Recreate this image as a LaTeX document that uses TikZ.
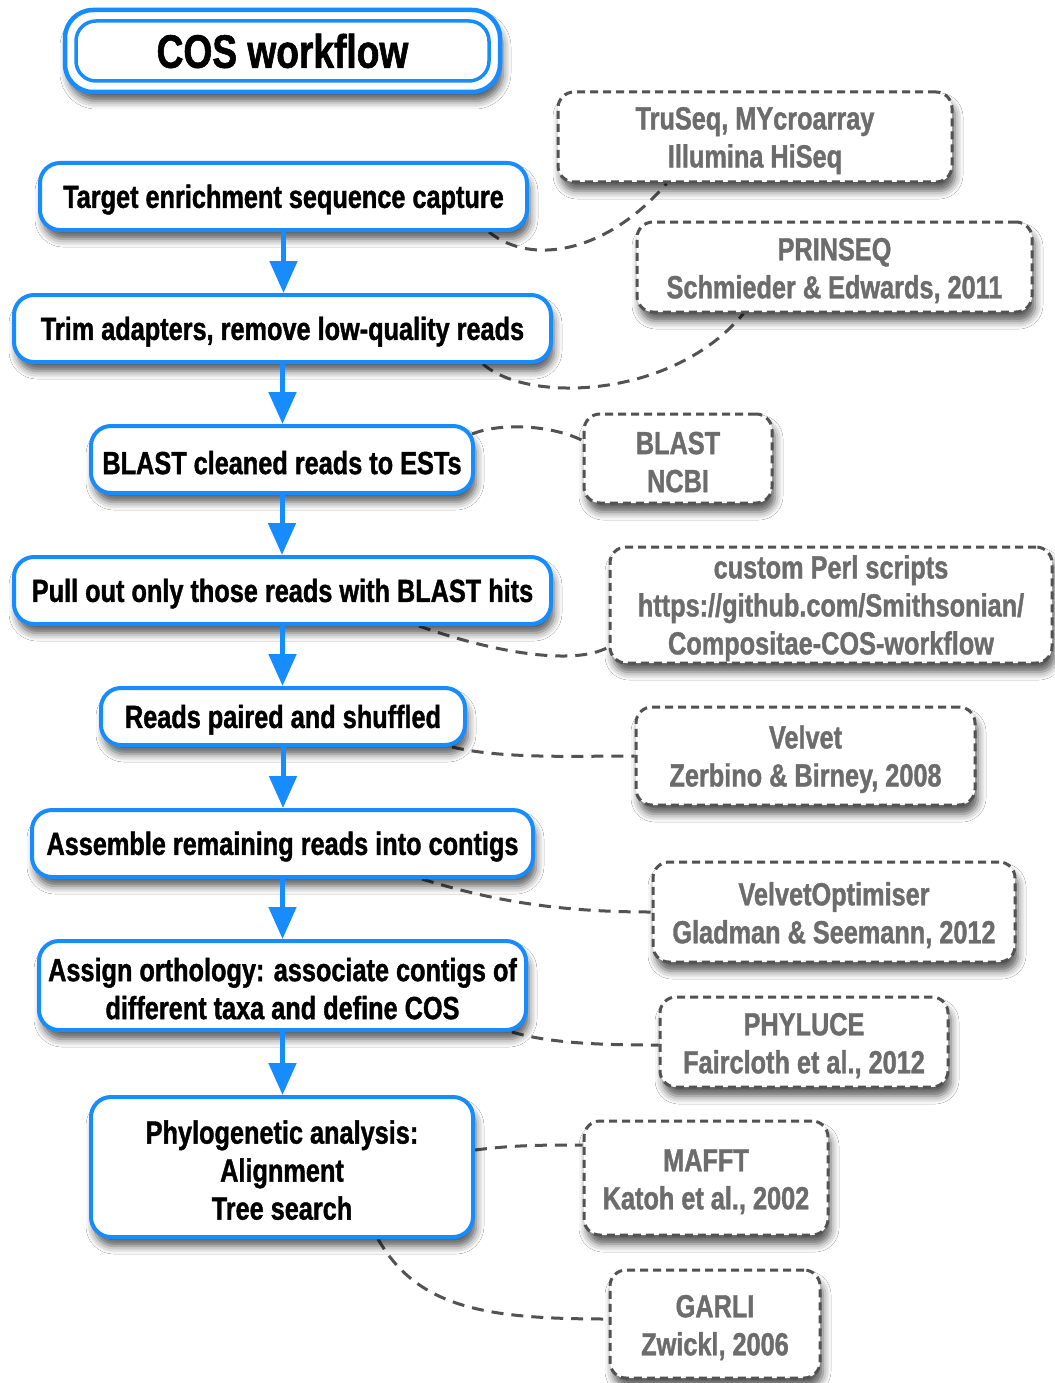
\documentclass[tikz,border=0pt]{standalone}
\usepackage{fontspec}
\setmainfont{Liberation Sans}[FakeStretch=0.79, BoldFeatures={FakeBold=1.2}]
\usetikzlibrary{arrows.meta,shadows.blur,calc}
\pgfdeclarelayer{bg}
\pgfsetlayers{bg,main}
\definecolor{cosblue}{RGB}{22,140,255}
\definecolor{dashgray}{RGB}{82,82,82}
\definecolor{txtgray}{RGB}{108,108,108}
\newcommand{\lowr}{\rule{0pt}{29.5pt}}
\begin{document}
\begin{tikzpicture}[x=1pt,y=-1pt,
  boxshadow/.style={blur shadow={shadow xshift=3pt, shadow yshift=-9pt, shadow blur radius=8pt, shadow opacity=65}},
  mainbox/.style={draw=cosblue, line width=4pt, fill=white, rounded corners=20pt, align=center, inner sep=0pt,
    font=\fontsize{32}{38}\selectfont\bfseries, boxshadow},
  toolbox/.style={draw=dashgray, line width=3pt, dash pattern=on 8pt off 5pt, fill=white, rounded corners=16pt,
    align=center, inner sep=0pt, text=txtgray, font=\fontsize{32}{38}\selectfont\bfseries, boxshadow},
  flow/.style={draw=cosblue, line width=5pt, -{Triangle[width=27pt,length=32pt]}},
  link/.style={draw=dashgray, line width=3pt, dash pattern=on 12pt off 8pt}]
\useasboundingbox (0,0) rectangle (1054,1383);

% title
\node[mainbox, line width=4.5pt, rounded corners=28pt, minimum width=435pt, minimum height=82pt] (title) at (282.5,51) {};
\node[draw=cosblue, line width=3.5pt, rounded corners=20pt, inner sep=0pt, minimum width=413pt, minimum height=60pt,
  font=\fontsize{47}{50}\selectfont\bfseries] (titlein) at (title.center) {COS workflow};

% workflow steps
\node[mainbox, minimum width=487pt, minimum height=67pt] (b1) at (283.5,196.5) {\lowr Target enrichment sequence capture};
\node[mainbox, minimum width=537pt, minimum height=67pt] (b2) at (282.5,328.5) {\lowr Trim adapters, remove low-quality reads};
\node[mainbox, minimum width=382pt, minimum height=67pt] (b3) at (282,459.5) {\lowr BLAST cleaned reads to ESTs};
\node[mainbox, minimum width=537pt, minimum height=67pt] (b4) at (282.5,590.5) {\lowr Pull out only those reads with BLAST hits};
\node[mainbox, minimum width=364pt, minimum height=57pt] (b5) at (283,716.5) {\lowr Reads paired and shuffled};
\node[mainbox, minimum width=501pt, minimum height=67pt] (b6) at (282.5,843.5) {\lowr Assemble remaining reads into contigs};
\node[mainbox, minimum width=487pt, minimum height=89pt] (b7) at (282.5,985.5) {\lowr Assign orthology: associate contigs of\\different taxa and define COS};
\node[mainbox, minimum width=382pt, minimum height=140pt] (b8) at (282,1167) {\lowr Phylogenetic analysis:\\Alignment\\Tree search};

% tools
\node[toolbox, minimum width=394pt, minimum height=90pt] (ta) at (755,137) {\lowr TruSeq, MYcroarray\\Illumina HiSeq};
\node[toolbox, minimum width=395pt, minimum height=90pt] (tb) at (834.5,267) {\lowr PRINSEQ\\Schmieder \& Edwards, 2011};
\node[toolbox, minimum width=188pt, minimum height=89pt] (tc) at (678,458.5) {\lowr BLAST\\NCBI};
\node[toolbox, minimum width=442pt, minimum height=116pt] (td) at (831,605) {\lowr custom Perl scripts\\https://github.com/Smithsonian/\\Compositae-COS-workflow};
\node[toolbox, minimum width=339pt, minimum height=98pt] (te) at (805.5,756) {\lowr Velvet\\Zerbino \& Birney, 2008};
\node[toolbox, minimum width=362pt, minimum height=100pt] (tf) at (834,912) {\lowr VelvetOptimiser\\Gladman \& Seemann, 2012};
\node[toolbox, minimum width=288pt, minimum height=90pt] (tg) at (804,1042) {\lowr PHYLUCE\\Faircloth et al., 2012};
\node[toolbox, minimum width=244pt, minimum height=114pt] (th) at (706,1178) {\lowr MAFFT\\Katoh et al., 2002};
\node[toolbox, minimum width=210pt, minimum height=108pt] (ti) at (715,1324) {\lowr GARLI\\Zwickl, 2006};

% flow arrows
\draw[flow] (b1.south) -- (b1.south |- b2.north);
\draw[flow] (b2.south) -- (b2.south |- b3.north);
\draw[flow] (b3.south) -- (b3.south |- b4.north);
\draw[flow] (b4.south) -- (b4.south |- b5.north);
\draw[flow] (b5.south) -- (b5.south |- b6.north);
\draw[flow] (b6.south) -- (b6.south |- b7.north);
\draw[flow] (b7.south) -- (b7.south |- b8.north);

% background and dashed links
\begin{pgfonlayer}{bg}
\fill[white] (0,0) rectangle (1054,1383);
\draw[link] ([xshift=-40pt]b1.south east) .. controls +(43,35) and +(-58,68) .. ([xshift=110pt]ta.south west);
\draw[link] ([xshift=-70pt]b2.south east) .. controls +(45,40) and +(-70,85) .. ([xshift=108pt]tb.south west);
\draw[link] ([xshift=-3pt,yshift=-10pt]b3.north east) .. controls +(30,-12) and +(-30,-15) .. ([yshift=18pt]tc.west);
\draw[link] ([xshift=-134pt]b4.south east) .. controls +(70,25) and +(-35,20) .. ([yshift=-42pt]td.west);
\draw[link] ([xshift=-15pt]b5.south east) .. controls +(50,12) and +(-60,0) .. (te.west);
\draw[link] ([xshift=-113pt]b6.south east) .. controls +(80,25) and +(-80,0) .. (tf.west);
\draw[link] ([xshift=-16pt]b7.south east) .. controls +(40,12) and +(-50,0) .. ([yshift=-3pt]tg.west);
\draw[link] ([yshift=17pt]b8.east) .. controls +(40,-5) and +(-40,0) .. ([yshift=33pt]th.west);
\draw[link] ([xshift=96pt]b8.south) .. controls +(40,70) and +(-120,0) .. ([yshift=5pt]ti.west);
\end{pgfonlayer}
\end{tikzpicture}
\end{document}
